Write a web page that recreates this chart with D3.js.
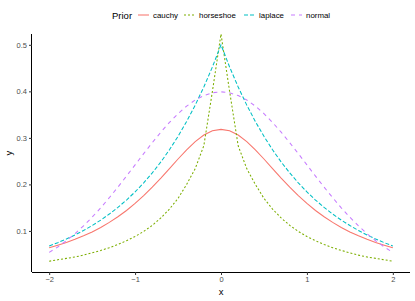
<!DOCTYPE html>
<html><head><meta charset="utf-8">
<script src="https://cdn.jsdelivr.net/npm/d3@7"></script>
<style>body{margin:0;background:#fff}svg{display:block}text{font-family:"Liberation Sans",Arial,Helvetica,sans-serif}</style>
</head><body>
<svg id="c" width="415" height="301"></svg>
<script>
const xValues = [-2,-1.9,-1.8,-1.7,-1.6,-1.5,-1.4,-1.3,-1.2,-1.1,-1,-0.9,-0.8,-0.7,-0.6,-0.5,-0.4,-0.3,-0.2,-0.1,0,0.1,0.2,0.3,0.4,0.5,0.6,0.7,0.8,0.9,1,1.1,1.2,1.3,1.4,1.5,1.6,1.7,1.8,1.9,2];
const cauchy = [0.0637,0.0693,0.0752,0.0819,0.0895,0.0979,0.1075,0.1183,0.1305,0.1440,0.1592,0.1759,0.1941,0.2136,0.2340,0.2546,0.2744,0.2920,0.3061,0.3152,0.3183,0.3152,0.3061,0.2920,0.2744,0.2546,0.2340,0.2136,0.1941,0.1759,0.1592,0.1440,0.1305,0.1183,0.1075,0.0979,0.0895,0.0819,0.0752,0.0693,0.0637];
const horseshoe = [0.035,0.038,0.041,0.044,0.048,0.053,0.058,0.064,0.071,0.079,0.088,0.099,0.112,0.128,0.147,0.170,0.200,0.234,0.283,0.400,Infinity,0.400,0.283,0.234,0.200,0.170,0.147,0.128,0.112,0.099,0.088,0.079,0.071,0.064,0.058,0.053,0.048,0.044,0.041,0.038,0.035];
const laplace = [0.0677,0.0748,0.0826,0.0913,0.1009,0.1116,0.1233,0.1363,0.1506,0.1664,0.1839,0.2033,0.2247,0.2483,0.2744,0.3033,0.3352,0.3704,0.4094,0.4524,0.5000,0.4524,0.4094,0.3704,0.3352,0.3033,0.2744,0.2483,0.2247,0.2033,0.1839,0.1664,0.1506,0.1363,0.1233,0.1116,0.1009,0.0913,0.0826,0.0748,0.0677];
const normal = [0.0540,0.0656,0.0790,0.0940,0.1109,0.1295,0.1497,0.1714,0.1942,0.2179,0.2420,0.2661,0.2897,0.3123,0.3332,0.3521,0.3683,0.3814,0.3910,0.3970,0.3989,0.3970,0.3910,0.3814,0.3683,0.3521,0.3332,0.3123,0.2897,0.2661,0.2420,0.2179,0.1942,0.1714,0.1497,0.1295,0.1109,0.0940,0.0790,0.0656,0.0540];
const seriesNames = ["cauchy","horseshoe","laplace","normal"];
const xTicks = [-2,-1,0,1,2];
const yTicks = [0.1,0.2,0.3,0.4,0.5];

const colors = {cauchy:"#F8766D",horseshoe:"#7CAE00",laplace:"#00BFC4",normal:"#C77CFF"};
const dashes = {cauchy:null,horseshoe:"2,2",laplace:"4,2",normal:"4,4"};
const seriesData = {cauchy,horseshoe,laplace,normal};

const svg = d3.select("#c");
const L=32,R=410,T=34,B=272;

const xr = d3.extent(xValues), xpad=(xr[1]-xr[0])*0.05;
const x = d3.scaleLinear().domain([xr[0]-xpad,xr[1]+xpad]).range([L,R]);
const finite = [].concat(cauchy,horseshoe,laplace,normal).filter(isFinite);
const yr = d3.extent(finite), ypad=(yr[1]-yr[0])*0.05;
const y = d3.scaleLinear().domain([yr[0]-ypad,yr[1]+ypad]).range([B,T]);
const yy = v => isFinite(v) ? y(v) : T;

svg.append("defs").append("clipPath").attr("id","clip").append("rect")
  .attr("x",L).attr("y",T).attr("width",R-L).attr("height",B-T);

const line = d3.line().x(d=>x(d[0])).y(d=>yy(d[1]));
const g = svg.append("g").attr("clip-path","url(#clip)");
seriesNames.forEach(n=>{
  g.append("path").datum(xValues.map((xv,i)=>[xv,seriesData[n][i]]))
    .attr("d",line).attr("fill","none").attr("stroke",colors[n])
    .attr("stroke-width",1.05).attr("stroke-dasharray",dashes[n]);
});

// axes
const xAxis = svg.append("g").attr("transform",`translate(0,${B})`)
  .call(d3.axisBottom(x).tickValues(xTicks).tickSize(3).tickPadding(2).tickFormat(d=>d<0?"\u2212"+Math.abs(d):d));
const yAxis = svg.append("g").attr("transform",`translate(${L},0)`)
  .call(d3.axisLeft(y).tickValues(yTicks).tickSize(3).tickPadding(2).tickFormat(d3.format(".1f")));
[xAxis,yAxis].forEach(a=>{
  a.select(".domain").attr("stroke","#000").attr("stroke-width",1);
  a.selectAll(".tick line").attr("stroke","#333").attr("stroke-width",1);
  a.selectAll(".tick text").attr("fill","#4D4D4D").style("font-size","7.5px").style("font-family",'"Liberation Sans",Arial,sans-serif');
});
xAxis.select(".domain").attr("d",`M${L},0.5H${R}`);
yAxis.select(".domain").attr("d",`M-0.5,${T}V${B}`);

svg.append("text").attr("x",(L+R)/2).attr("y",295).attr("text-anchor","middle").style("font-size","9.5px").text("x");
svg.append("text").attr("transform",`translate(12,${(T+B)/2}) rotate(-90)`).attr("text-anchor","middle").style("font-size","9.5px").text("y");

// legend
const lg = svg.append("g");
lg.append("text").attr("x",112).attr("y",18.5).style("font-size","9.5px").text("Prior");
const keyX = [138,184,244,291];
seriesNames.forEach((n,i)=>{
  lg.append("line").attr("x1",keyX[i]).attr("x2",keyX[i]+11).attr("y1",15).attr("y2",15)
    .attr("stroke",colors[n]).attr("stroke-width",1.05).attr("stroke-dasharray",dashes[n]);
  lg.append("text").attr("x",keyX[i]+15).attr("y",17.8).style("font-size","7.9px").text(n);
});
</script>
</body></html>
